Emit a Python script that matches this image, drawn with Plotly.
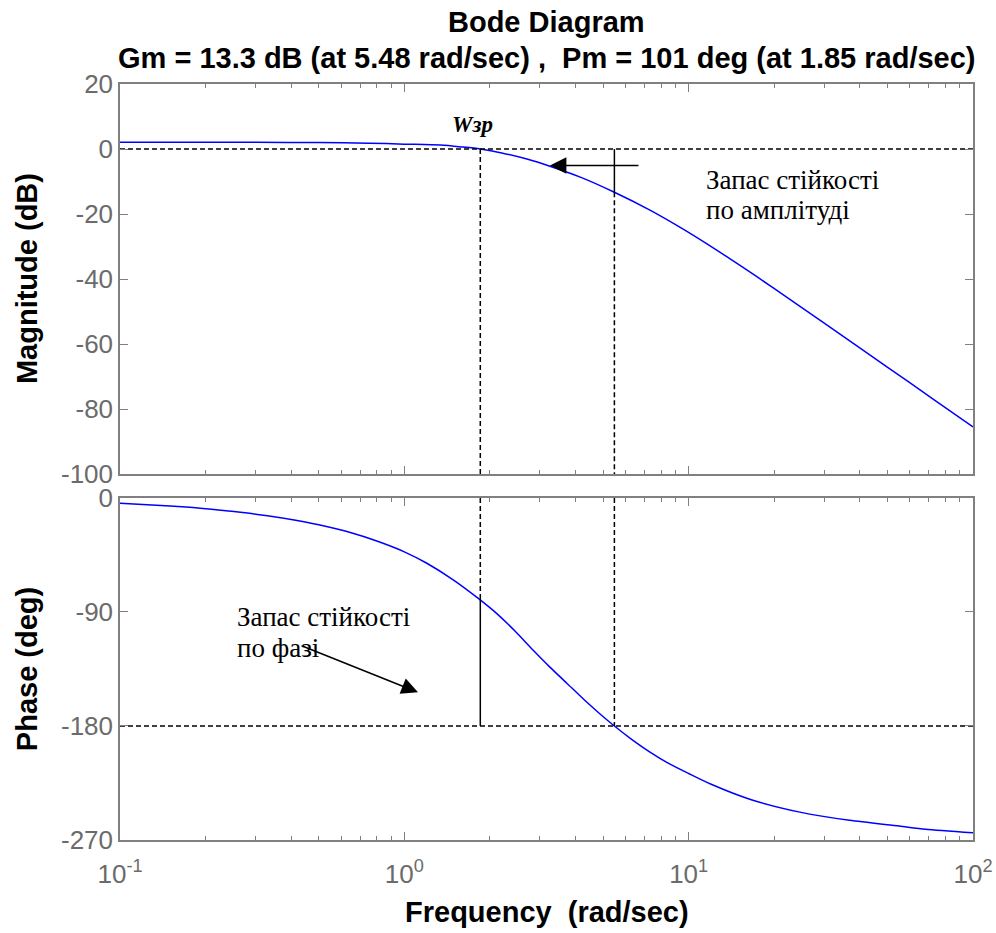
import math
import plotly.graph_objects as go

# Frequency response (rad/sec, dB, deg)
freq_mag = [0.1, 0.2, 0.3, 0.5, 0.75, 1.0, 1.34, 1.6, 1.85, 2.2, 2.7, 3.25, 4.2,
            5.48, 7.31, 9.5, 11.6, 15.2, 19.9, 29.8, 49.8, 72.6, 100]
mag_db = [2.1, 2.1, 2.05, 2.0, 1.8, 1.5, 1.2, 0.6, 0.0, -1.2, -3.1, -5.3, -8.8,
          -13.3, -18.8, -24.5, -29.2, -35.9, -42.8, -53.4, -67.0, -77.0, -85.5]

freq_phase = [0.1, 0.15, 0.21, 0.27, 0.33, 0.41, 0.5, 0.65, 0.8, 1.0, 1.2, 1.49,
              1.82, 2.11, 2.45, 2.84, 3.25, 3.72, 4.3, 4.88, 5.48, 6.3, 7.31, 8.5,
              10, 12, 16.5, 24.6, 36.8, 55, 68, 100]
phase_deg = [-4.2, -6.4, -8.9, -11.5, -14.0, -17.4, -21.2, -27.5, -34, -42.5, -51.5,
             -64.8, -79.3, -91.1, -105, -120.2, -133.5, -146, -159.5, -170.5, -180,
             -190.5, -200.6, -209.5, -217.5, -226, -238, -248, -254.5, -259, -261.5,
             -264.3]

# Stability margins
gain_margin_db = 13.3
phase_cross_freq = 5.48
phase_margin_deg = 101
gain_cross_freq = 1.85

# Axis ticks
x_ticks = [0.1, 1, 10, 100]
x_tick_text = ["10<sup>-1</sup>", "10<sup>0</sup>", "10<sup>1</sup>", "10<sup>2</sup>"]
mag_ticks = [20, 0, -20, -40, -60, -80, -100]
phase_ticks = [0, -90, -180, -270]
minor_x = [k * 10 ** e for e in (-1, 0, 1) for k in range(2, 10)]

SANS = "Liberation Sans, Arial, sans-serif"
SERIF = "Liberation Serif, Times New Roman, serif"
GRAY = "#6b6b6b"
AXC = "#808080"
DASH = "5px,3px"

fig = go.Figure()

# Bode curves
for fx, fy, ax, ay in ((freq_mag, mag_db, "x", "y"), (freq_phase, phase_deg, "x2", "y2")):
    fig.add_trace(go.Scatter(x=fx, y=fy, mode="lines",
                             line=dict(color="#0000ff", width=1.5, shape="spline",
                                       smoothing=0.7),
                             xaxis=ax, yaxis=ay, hoverinfo="skip", showlegend=False))


def seg(xs, ys, ax, dash=None):
    fig.add_trace(go.Scatter(x=xs, y=ys, mode="lines",
                             line=dict(color="black", width=1.5, dash=dash),
                             xaxis=ax[0], yaxis=ax[1], hoverinfo="skip",
                             showlegend=False))


pm_phase = phase_margin_deg - 180
# Magnitude plot: 0 dB line, crossover markers, gain margin bar
seg([0.1, 100], [0, 0], ("x", "y"), DASH)
seg([gain_cross_freq, gain_cross_freq], [0, -100], ("x", "y"), DASH)
seg([phase_cross_freq, phase_cross_freq], [-gain_margin_db, -100], ("x", "y"), DASH)
seg([phase_cross_freq, phase_cross_freq], [0, -gain_margin_db], ("x", "y"))
# Phase plot: -180 line, crossover markers, phase margin bar
seg([0.1, 100], [-180, -180], ("x2", "y2"), DASH)
seg([gain_cross_freq, gain_cross_freq], [0, pm_phase], ("x2", "y2"), DASH)
seg([gain_cross_freq, gain_cross_freq], [pm_phase, -180], ("x2", "y2"))
seg([phase_cross_freq, phase_cross_freq], [0, -180], ("x2", "y2"), DASH)

axis_common = dict(type="log", range=[-1, 2], showgrid=False, zeroline=False,
                   automargin=False,
                   showline=True, linecolor=AXC, linewidth=1.5, mirror="ticks",
                   ticks="inside", ticklen=8, tickcolor=AXC, tickwidth=1,
                   tickvals=x_ticks,
                   minor=dict(tickvals=minor_x, ticks="inside", ticklen=4,
                              tickcolor=AXC, tickwidth=1, showgrid=False))
y_common = dict(showgrid=False, zeroline=False, showline=True, linecolor=AXC,
                automargin=False,
                linewidth=1.5, mirror="ticks", ticks="inside", ticklen=8,
                tickcolor=AXC, tickwidth=1,
                tickfont=dict(family=SANS, size=26, color=GRAY))

fig.update_layout(
    width=996, height=933,
    margin=dict(l=120, r=23, t=84, b=93, autoexpand=False),
    paper_bgcolor="white", plot_bgcolor="white",
    xaxis=dict(axis_common, anchor="y", domain=[0, 1], showticklabels=False),
    xaxis2=dict(axis_common, anchor="y2", domain=[0, 1], ticktext=x_tick_text,
                ticklabelstandoff=10,
                tickfont=dict(family=SANS, size=26, color=GRAY)),
    yaxis=dict(y_common, anchor="x", domain=[0.4841, 1], range=[-100, 20],
               tickvals=mag_ticks, ticktext=[str(v) for v in mag_ticks]),
    yaxis2=dict(y_common, anchor="x2", domain=[0, 0.4524], range=[-270, 0],
                tickvals=phase_ticks, ticktext=[str(v) for v in phase_ticks]),
)

bold = dict(family=SANS, size=29, color="black", weight="bold")
note = dict(family=SERIF, size=27, color="black")
ann = [
    dict(text="Bode Diagram", xref="paper", yref="paper", x=0.5, y=1.082,
         showarrow=False, font=bold, xanchor="center", yanchor="middle"),
    dict(text=f"Gm = {gain_margin_db} dB (at {phase_cross_freq} rad/sec) ,\u00a0 "
              f"Pm = {phase_margin_deg} deg (at {gain_cross_freq} rad/sec)",
         xref="paper", yref="paper", x=0.5, y=1.034, showarrow=False, font=bold,
         xanchor="center", yanchor="middle"),
    dict(text="Magnitude (dB)", xref="paper", yref="paper", x=-0.109, y=0.742,
         textangle=-90, showarrow=False, font=bold, xanchor="center",
         yanchor="middle"),
    dict(text="Phase (deg)", xref="paper", yref="paper", x=-0.109, y=0.226,
         textangle=-90, showarrow=False, font=bold, xanchor="center",
         yanchor="middle"),
    dict(text="Frequency\u00a0 (rad/sec)", xref="paper", yref="paper", x=0.5,
         y=-0.095, showarrow=False, font=bold, xanchor="center", yanchor="middle"),
    # crossover label
    dict(text="<b><i>Wзр</i></b>", xref="x", yref="y", x=math.log10(1.73), y=7.4,
         showarrow=False, font=dict(family=SERIF, size=23, color="black"),
         xanchor="center", yanchor="middle"),
    # gain margin note
    dict(text="Запас стійкості", xref="x", yref="y", x=math.log10(11.3), y=-9.5,
         showarrow=False, font=note, xanchor="left", yanchor="middle"),
    dict(text="по амплітуді", xref="x", yref="y", x=math.log10(11.3), y=-18.8,
         showarrow=False, font=note, xanchor="left", yanchor="middle"),
    dict(text="", xref="x", yref="y", x=math.log10(3.25), y=-5.1,
         axref="x", ayref="y", ax=math.log10(6.74), ay=-5.1, showarrow=True,
         arrowhead=2, arrowsize=2.2, arrowwidth=1.5, arrowcolor="black"),
    # phase margin note
    dict(text="Запас стійкості", xref="x2", yref="y2", x=math.log10(0.254), y=-94,
         showarrow=False, font=note, xanchor="left", yanchor="middle"),
    dict(text="по фазі", xref="x2", yref="y2", x=math.log10(0.254), y=-118.6,
         showarrow=False, font=note, xanchor="left", yanchor="middle"),
    dict(text="", xref="x2", yref="y2", x=math.log10(1.117), y=-153.4,
         axref="x2", ayref="y2", ax=math.log10(0.43), ay=-116.2, showarrow=True,
         arrowhead=2, arrowsize=2.2, arrowwidth=1.5, arrowcolor="black"),
]
fig.update_layout(annotations=ann)

fig.write_html("out.html")
